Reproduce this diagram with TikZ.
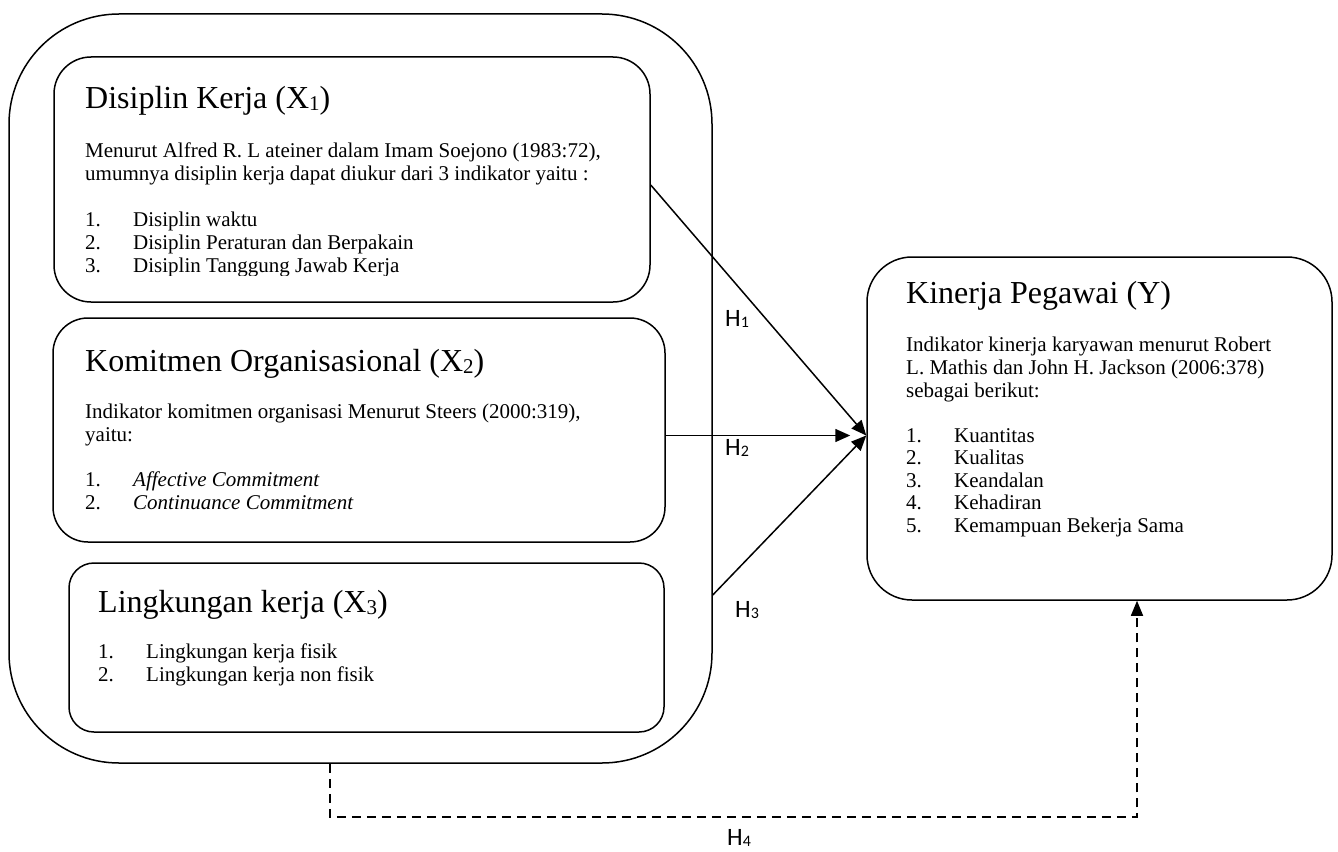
\documentclass[tikz,border=0pt]{standalone}
\usepackage{fontspec}
\setmainfont{Liberation Serif}
\newfontfamily\hfont{Carlito}
\usetikzlibrary{arrows.meta,calc}
\tikzset{
 box/.style={draw, line width=1.5pt, inner sep=0pt},
 txt/.style={anchor=base west, inner sep=0pt, font=\fontsize{21}{23}\selectfont},
 ttl/.style={anchor=base west, inner sep=0pt, font=\fontsize{32}{36}\selectfont},
 hlab/.style={anchor=base west, inner sep=0pt, font=\hfont\fontsize{25}{28}\selectfont},
 arr/.style={line width=1.5pt, -{Triangle[length=15pt,width=13pt]}},
 dasharr/.style={line width=1.5pt, dash pattern=on 9pt off 6pt, -{Triangle[length=15pt,width=12pt]}},
}
\newcommand{\subdig}[1]{\raisebox{-2pt}{\fontsize{21}{21}\selectfont #1}}
\newcommand{\hsub}[1]{\raisebox{-1pt}{\fontsize{16}{16}\selectfont #1}}
\newcommand{\itm}[2]{\makebox[48pt][l]{#1}#2}
\begin{document}
\begin{tikzpicture}[x=1pt,y=-1pt]
\useasboundingbox (0,0) rectangle (1338,851);
% boxes
\node[box, rounded corners=110pt, minimum width=703pt, minimum height=749pt] (outer) at (360.5,388.5) {};
\node[box, rounded corners=37pt, minimum width=596pt, minimum height=245pt] (x1) at (352,179.5) {};
\node[box, rounded corners=35pt, minimum width=612pt, minimum height=224pt] (x2) at (359,430) {};
\node[box, rounded corners=25pt, minimum width=595pt, minimum height=169pt] (x3) at (366.5,647.5) {};
\node[box, rounded corners=45pt, minimum width=465pt, minimum height=343pt] (y) at (1099.5,428.5) {};
% X1 text
\begin{scope}
\clip (54,57) rectangle (650,275.5);
\node[ttl] (x1t) at (85,108) {Disiplin Kerja (X\subdig{1})};
\node[txt] (x1a) at (85,157) {Menurut Alfred R. L ateiner dalam Imam Soejono (1983:72),};
\node[txt] (x1b) at (85,180) {umumnya disiplin kerja dapat diukur dari 3 indikator yaitu :};
\node[txt] (x1c) at (85,226) {\itm{1.}{Disiplin waktu}};
\node[txt] (x1d) at (85,249) {\itm{2.}{Disiplin Peraturan dan Berpakain}};
\node[txt] (x1e) at (85,272) {\itm{3.}{Disiplin Tanggung Jawab Kerja}};
\end{scope}
% X2 text
\node[ttl] (x2t) at (85,371) {Komitmen Organisasional (X\subdig{2})};
\node[txt] (x2a) at (85,418) {Indikator komitmen organisasi Menurut Steers (2000:319),};
\node[txt] (x2b) at (85,441) {yaitu:};
\node[txt] (x2c) at (85,486) {\itm{1.}{\itshape Affective Commitment}};
\node[txt] (x2d) at (85,509) {\itm{2.}{\itshape Continuance Commitment}};
% X3 text
\node[ttl] (x3t) at (98,612) {Lingkungan kerja (X\subdig{3})};
\node[txt] (x3a) at (98,658) {\itm{1.}{Lingkungan kerja fisik}};
\node[txt] (x3b) at (98,681) {\itm{2.}{Lingkungan kerja non fisik}};
% Y text
\node[ttl] (yt) at (906,303) {Kinerja Pegawai (Y)};
\node[txt] (ya) at (906,351) {Indikator kinerja karyawan menurut Robert};
\node[txt] (yb) at (906,374) {L. Mathis dan John H. Jackson (2006:378)};
\node[txt] (yc) at (906,397) {sebagai berikut:};
\node[txt] (yd) at (906,442) {\itm{1.}{Kuantitas}};
\node[txt] (ye) at (906,464.5) {\itm{2.}{Kualitas}};
\node[txt] (yf) at (906,487) {\itm{3.}{Keandalan}};
\node[txt] (yg) at (906,509.5) {\itm{4.}{Kehadiran}};
\node[txt] (yh) at (906,532) {\itm{5.}{Kemampuan Bekerja Sama}};
% connectors
\coordinate (tgt) at ($(y.west)+(0,7)$);
\coordinate (h1s) at ($(x1.east)+(0,5.5)$);
\coordinate (h3s) at ($(outer.east)+(0,206.5)$);
\coordinate (h4s) at ($(outer.south)+(-30.5,0)$);
\coordinate (h4e) at ($(y.south)+(37.5,0)$);
\draw[arr] (h1s) -- (tgt);
\draw[arr] (x2.east |- tgt) -- ($(tgt)+(-16,0)$);
\draw[arr] (h3s) -- (tgt);
\draw[dasharr] (h4s) -- (h4s |- 0,817) -| (h4e);
% labels
\node[hlab] (h1) at (725,326) {H\hsub{1}};
\node[hlab] (h2) at (725,455) {H\hsub{2}};
\node[hlab] (h3) at (735,617) {H\hsub{3}};
\node[hlab] (h4) at (727,845) {H\hsub{4}};
\end{tikzpicture}
\end{document}
